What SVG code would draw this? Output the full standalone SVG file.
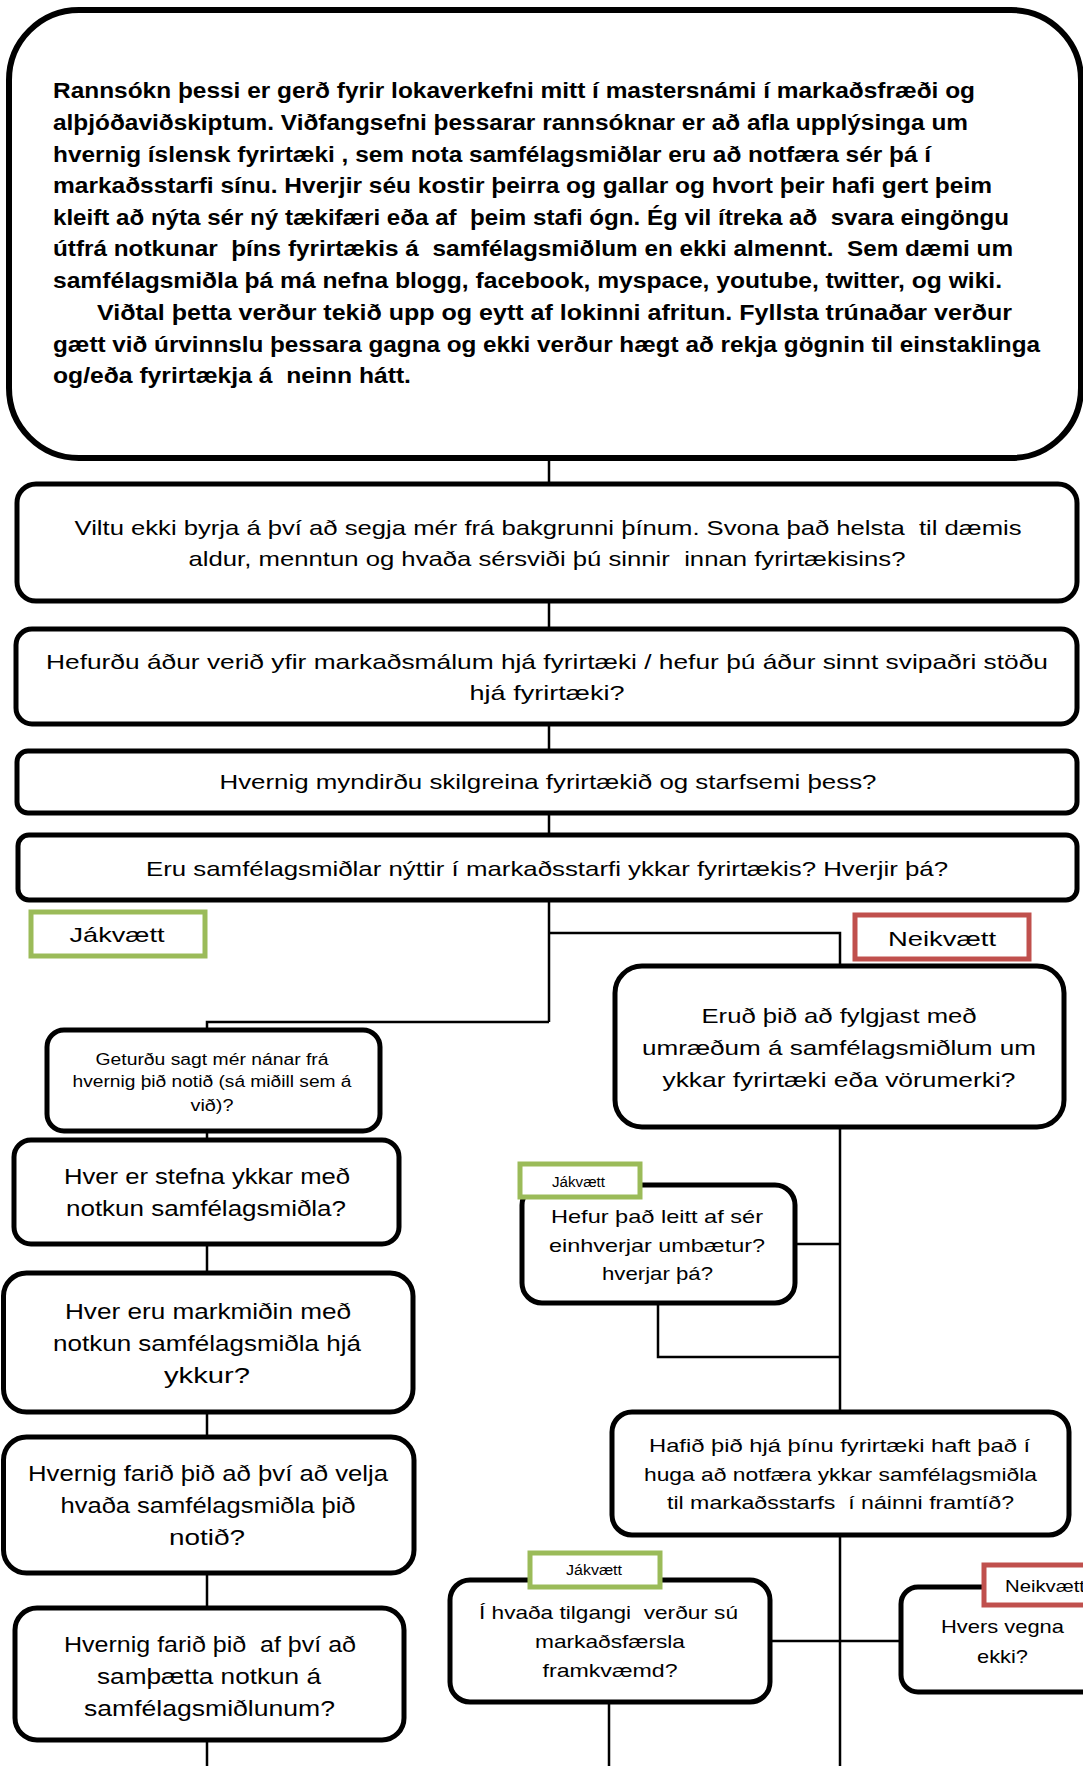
<svg xmlns="http://www.w3.org/2000/svg" width="1083" height="1766" viewBox="0 0 1083 1766">
<style>
.box{fill:#fff;stroke:#000;stroke-width:5}
.top{stroke-width:6}
.pos{fill:#fff;stroke:#9BBB59;stroke-width:5}
.neg{fill:#fff;stroke:#C0504D;stroke-width:5}
.conn{fill:none;stroke:#000;stroke-width:2.5}
text{font-family:"Liberation Sans",Arial,sans-serif;fill:#000;white-space:pre}
.b{font-weight:bold;font-size:21.5px}
.c{text-anchor:middle}
.f21{font-size:21px}
.f22{font-size:22px}
.f19{font-size:19px}
.f16{font-size:16px}
.f14{font-size:14px}
.f17{font-size:17px}
</style>
<rect width="1083" height="1766" fill="#fff"/>
<g id="connectors">
<path class="conn" d="M549 458V484M549 601V629M549 724V751M549 813V835M549 900V1022M549 933H840V966M549 1022H207V1030M207 1131V1140M207 1244V1273M207 1412V1437M207 1573V1608M207 1740V1766"/>
<path class="conn" d="M840 1127V1412M795 1244H840M658 1303V1357H840M840 1535V1766M770 1641H901M609 1702V1766"/>
</g>
<g id="intro">
<rect class="box top" x="9" y="10" width="1072" height="448" rx="70"/>
<text class="b" x="53" y="98" textLength="922" lengthAdjust="spacingAndGlyphs">Rannsókn þessi er gerð fyrir lokaverkefni mitt í mastersnámi í markaðsfræði og</text>
<text class="b" x="53" y="130" textLength="915" lengthAdjust="spacingAndGlyphs">alþjóðaviðskiptum. Viðfangsefni þessarar rannsóknar er að afla upplýsinga um</text>
<text class="b" x="53" y="161.5" textLength="878" lengthAdjust="spacingAndGlyphs">hvernig íslensk fyrirtæki , sem nota samfélagsmiðlar eru að notfæra sér þá í</text>
<text class="b" x="53" y="193" textLength="939" lengthAdjust="spacingAndGlyphs">markaðsstarfi sínu. Hverjir séu kostir þeirra og gallar og hvort þeir hafi gert þeim</text>
<text class="b" x="53" y="225" textLength="956" lengthAdjust="spacingAndGlyphs">kleift að nýta sér ný tækifæri eða af  þeim stafi ógn. Ég vil ítreka að  svara eingöngu</text>
<text class="b" x="53" y="256" textLength="960" lengthAdjust="spacingAndGlyphs">útfrá notkunar  þíns fyrirtækis á  samfélagsmiðlum en ekki almennt.  Sem dæmi um</text>
<text class="b" x="53" y="288" textLength="949" lengthAdjust="spacingAndGlyphs">samfélagsmiðla þá má nefna blogg, facebook, myspace, youtube, twitter, og wiki.</text>
<text class="b" x="97" y="320" textLength="915" lengthAdjust="spacingAndGlyphs">Viðtal þetta verður tekið upp og eytt af lokinni afritun. Fyllsta trúnaðar verður</text>
<text class="b" x="53" y="352" textLength="987" lengthAdjust="spacingAndGlyphs">gætt við úrvinnslu þessara gagna og ekki verður hægt að rekja gögnin til einstaklinga</text>
<text class="b" x="53" y="383" textLength="358" lengthAdjust="spacingAndGlyphs">og/eða fyrirtækja á  neinn hátt.</text>
</g>
<g id="q-background">
<rect class="box" x="17" y="484" width="1060" height="117" rx="19"/>
<text class="c f21" x="548" y="535" textLength="947" lengthAdjust="spacingAndGlyphs">Viltu ekki byrja á því að segja mér frá bakgrunni þínum. Svona það helsta  til dæmis</text>
<text class="c f21" x="547" y="566" textLength="717" lengthAdjust="spacingAndGlyphs">aldur, menntun og hvaða sérsviði þú sinnir  innan fyrirtækisins?</text>
</g>
<g id="q-experience">
<rect class="box" x="16" y="629" width="1061" height="95" rx="16"/>
<text class="c f21" x="547" y="669" textLength="1002" lengthAdjust="spacingAndGlyphs">Hefurðu áður verið yfir markaðsmálum hjá fyrirtæki / hefur þú áður sinnt svipaðri stöðu</text>
<text class="c f21" x="547" y="700" textLength="155" lengthAdjust="spacingAndGlyphs">hjá fyrirtæki?</text>
</g>
<g id="q-company">
<rect class="box" x="17" y="751" width="1060" height="62" rx="11"/>
<text class="c f21" x="548" y="789" textLength="657" lengthAdjust="spacingAndGlyphs">Hvernig myndirðu skilgreina fyrirtækið og starfsemi þess?</text>
</g>
<g id="q-social-used">
<rect class="box" x="18" y="835" width="1059" height="65" rx="11"/>
<text class="c f21" x="547" y="876" textLength="802" lengthAdjust="spacingAndGlyphs">Eru samfélagsmiðlar nýttir í markaðsstarfi ykkar fyrirtækis? Hverjir þá?</text>
</g>
<g id="q-follow">
<rect class="box" x="615" y="966" width="449" height="161" rx="27"/>
<text class="c f21" x="839" y="1023" textLength="275" lengthAdjust="spacingAndGlyphs">Eruð þið að fylgjast með</text>
<text class="c f21" x="839" y="1055" textLength="394" lengthAdjust="spacingAndGlyphs">umræðum á samfélagsmiðlum um</text>
<text class="c f21" x="839" y="1087" textLength="353" lengthAdjust="spacingAndGlyphs">ykkar fyrirtæki eða vörumerki?</text>
</g>
<g id="q-how-used">
<rect class="box" x="47" y="1030" width="333" height="101" rx="17"/>
<text class="c f16" x="212" y="1065" textLength="233" lengthAdjust="spacingAndGlyphs">Geturðu sagt mér nánar frá</text>
<text class="c f16" x="212" y="1087" textLength="279" lengthAdjust="spacingAndGlyphs">hvernig þið notið (sá miðill sem á</text>
<text class="c f16" x="212" y="1111" textLength="43" lengthAdjust="spacingAndGlyphs">við)?</text>
</g>
<g id="q-policy">
<rect class="box" x="14" y="1140" width="385" height="104" rx="17"/>
<text class="c f22" x="207" y="1184" textLength="286" lengthAdjust="spacingAndGlyphs">Hver er stefna ykkar með</text>
<text class="c f22" x="206" y="1216" textLength="280" lengthAdjust="spacingAndGlyphs">notkun samfélagsmiðla?</text>
</g>
<g id="q-goals">
<rect class="box" x="3.5" y="1273" width="409.5" height="139" rx="23"/>
<text class="c f22" x="208" y="1319" textLength="286" lengthAdjust="spacingAndGlyphs">Hver eru markmiðin með</text>
<text class="c f22" x="207" y="1351" textLength="308" lengthAdjust="spacingAndGlyphs">notkun samfélagsmiðla hjá</text>
<text class="c f22" x="207" y="1383" textLength="86" lengthAdjust="spacingAndGlyphs">ykkur?</text>
</g>
<g id="q-choose">
<rect class="box" x="3.5" y="1437" width="410.5" height="136" rx="23"/>
<text class="c f22" x="208" y="1481" textLength="360" lengthAdjust="spacingAndGlyphs">Hvernig farið þið að því að velja</text>
<text class="c f22" x="208" y="1513" textLength="295" lengthAdjust="spacingAndGlyphs">hvaða samfélagsmiðla þið</text>
<text class="c f22" x="207" y="1545" textLength="76" lengthAdjust="spacingAndGlyphs">notið?</text>
</g>
<g id="q-integrate">
<rect class="box" x="15" y="1608" width="389" height="132" rx="22"/>
<text class="c f22" x="210" y="1652" textLength="292" lengthAdjust="spacingAndGlyphs">Hvernig farið þið  af því að</text>
<text class="c f22" x="209" y="1684" textLength="224" lengthAdjust="spacingAndGlyphs">samþætta notkun á</text>
<text class="c f22" x="209.5" y="1716" textLength="251" lengthAdjust="spacingAndGlyphs">samfélagsmiðlunum?</text>
</g>
<g id="q-improvements">
<rect class="box" x="522" y="1185" width="273" height="118" rx="20"/>
<text class="c f19" x="657" y="1223" textLength="212" lengthAdjust="spacingAndGlyphs">Hefur það leitt af sér</text>
<text class="c f19" x="657" y="1252" textLength="216" lengthAdjust="spacingAndGlyphs">einhverjar umbætur?</text>
<text class="c f19" x="657.5" y="1280" textLength="111" lengthAdjust="spacingAndGlyphs">hverjar þá?</text>
</g>
<g id="q-future">
<rect class="box" x="612" y="1412" width="457" height="123" rx="20"/>
<text class="c f19" x="839.5" y="1452" textLength="381" lengthAdjust="spacingAndGlyphs">Hafið þið hjá þínu fyrirtæki haft það í</text>
<text class="c f19" x="840.5" y="1481" textLength="393" lengthAdjust="spacingAndGlyphs">huga að notfæra ykkar samfélagsmiðla</text>
<text class="c f19" x="840.5" y="1509" textLength="347" lengthAdjust="spacingAndGlyphs">til markaðsstarfs  í náinni framtíð?</text>
</g>
<g id="q-purpose">
<rect class="box" x="450" y="1580" width="320" height="122" rx="20"/>
<text class="c f19" x="608.5" y="1619" textLength="259" lengthAdjust="spacingAndGlyphs">Í hvaða tilgangi  verður sú</text>
<text class="c f19" x="610" y="1648" textLength="150" lengthAdjust="spacingAndGlyphs">markaðsfærsla</text>
<text class="c f19" x="610" y="1677" textLength="135" lengthAdjust="spacingAndGlyphs">framkvæmd?</text>
</g>
<g id="q-why-not">
<rect class="box" x="901" y="1587" width="200" height="105" rx="17"/>
<text class="c f19" x="1002.5" y="1633" textLength="123" lengthAdjust="spacingAndGlyphs">Hvers vegna</text>
<text class="c f19" x="1002.5" y="1663" textLength="51" lengthAdjust="spacingAndGlyphs">ekki?</text>
</g>
<g id="label-jakvaett-1">
<rect class="pos" x="31" y="912" width="174" height="44"/>
<text class="c f21" x="117" y="942" textLength="95" lengthAdjust="spacingAndGlyphs">Jákvætt</text>
</g>
<g id="label-neikvaett-1">
<rect class="neg" x="855" y="915" width="174" height="44"/>
<text class="c f21" x="942" y="946" textLength="108" lengthAdjust="spacingAndGlyphs">Neikvætt</text>
</g>
<g id="label-jakvaett-2">
<rect class="pos" x="520" y="1164" width="120" height="33"/>
<text class="c f14" x="578.5" y="1187" textLength="53" lengthAdjust="spacingAndGlyphs">Jákvætt</text>
</g>
<g id="label-jakvaett-3">
<rect class="pos" x="530" y="1553" width="130" height="34"/>
<text class="c f14" x="594" y="1575" textLength="56" lengthAdjust="spacingAndGlyphs">Jákvætt</text>
</g>
<g id="label-neikvaett-2">
<rect class="neg" x="984" y="1565" width="120" height="40"/>
<text class="f17" x="1005" y="1592" textLength="80" lengthAdjust="spacingAndGlyphs">Neikvætt</text>
</g>
</svg>
